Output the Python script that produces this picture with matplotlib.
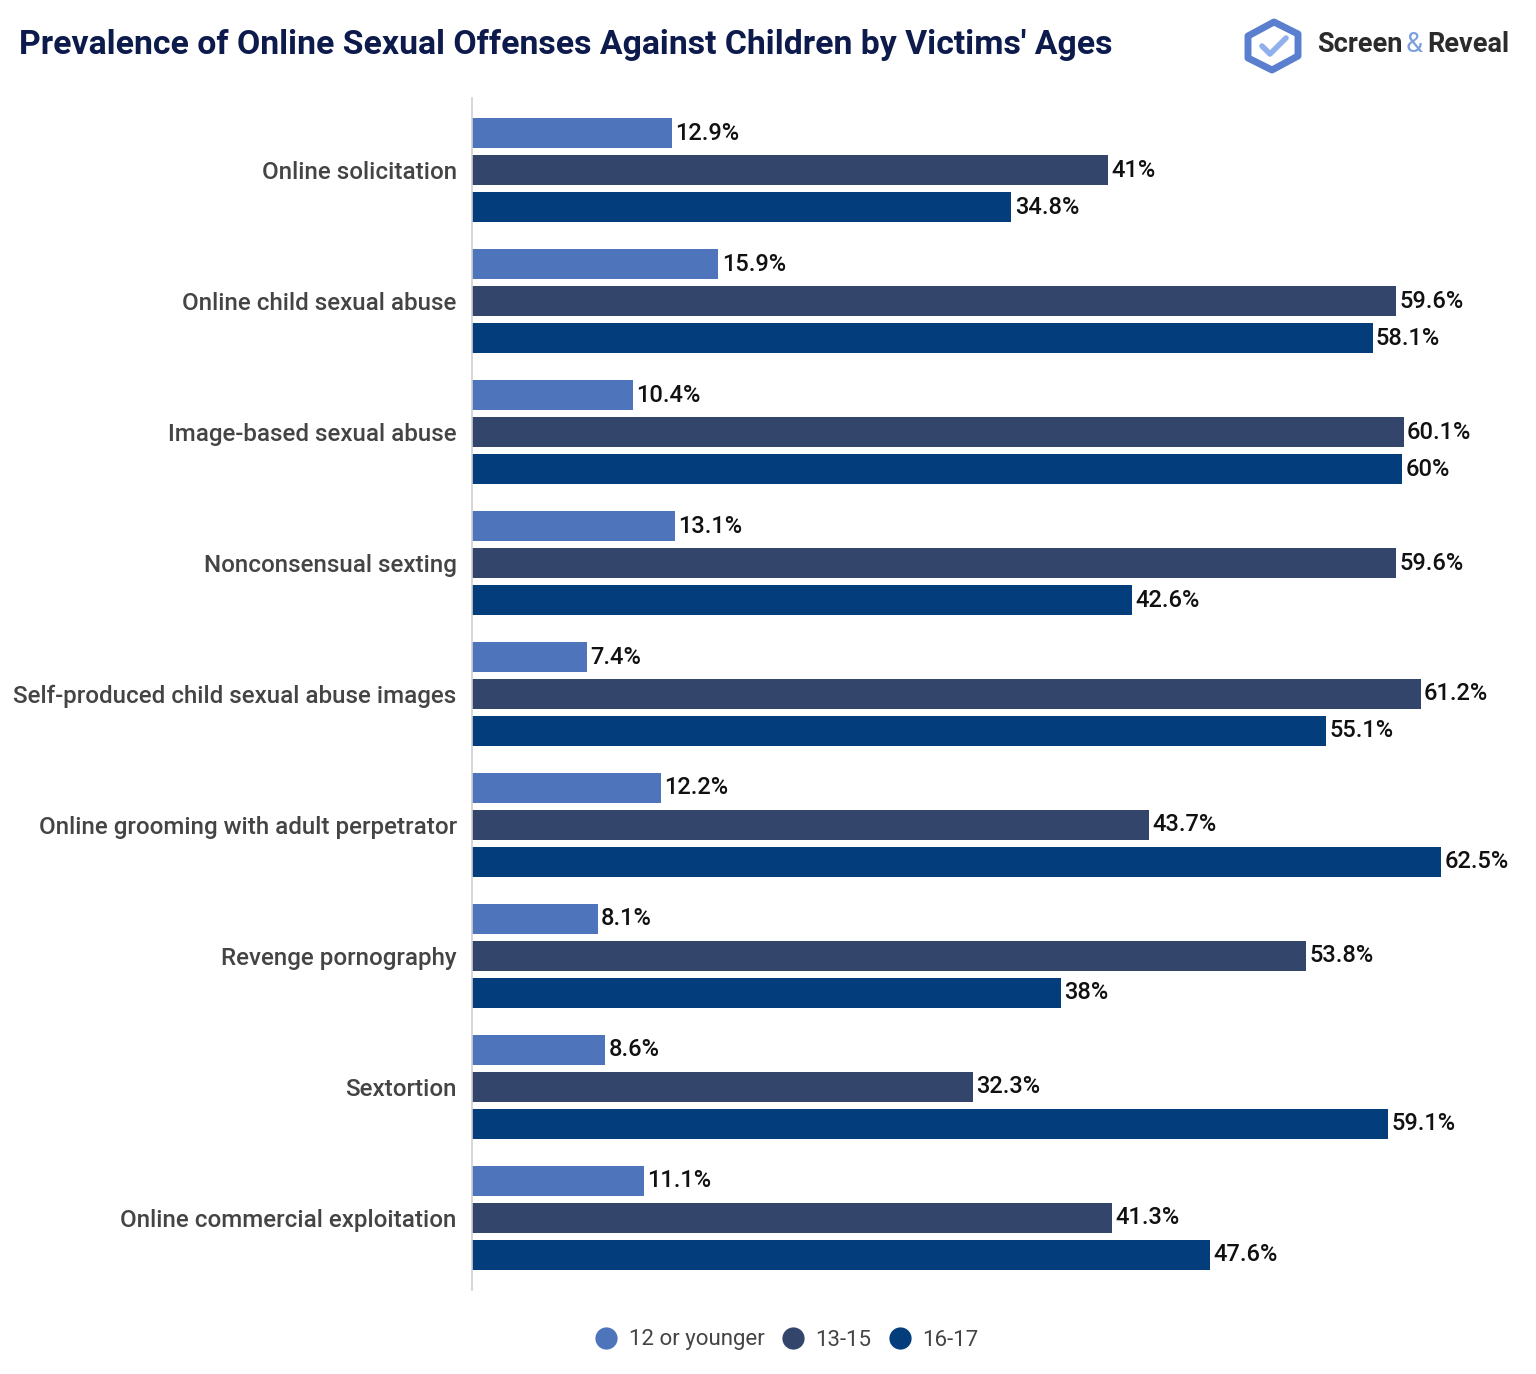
import matplotlib
matplotlib.use("Agg")
import matplotlib.pyplot as plt
import numpy as np
from matplotlib.patches import Polygon
from matplotlib.lines import Line2D

plt.rcParams['font.family'] = ['Roboto', 'DejaVu Sans']

categories = [
    "Online solicitation",
    "Online child sexual abuse",
    "Image-based sexual abuse",
    "Nonconsensual sexting",
    "Self-produced child sexual abuse images",
    "Online grooming with adult perpetrator",
    "Revenge pornography",
    "Sextortion",
    "Online commercial exploitation",
]
series_names = ["12 or younger", "13-15", "16-17"]
age_12_or_younger = [12.9, 15.9, 10.4, 13.1, 7.4, 12.2, 8.1, 8.6, 11.1]
age_13_15 = [41, 59.6, 60.1, 59.6, 61.2, 43.7, 53.8, 32.3, 41.3]
age_16_17 = [34.8, 58.1, 60, 42.6, 55.1, 62.5, 38, 59.1, 47.6]
colors = ["#4e75bb", "#34456b", "#033d7c"]

W, H = 1536, 1374
fig = plt.figure(figsize=(W / 100, H / 100), dpi=100)
ax = fig.add_axes([472 / W, 1 - 1290 / H, (1520 - 472) / W, (1290 - 98) / H])

n = len(categories)
y = np.arange(n)
pitch = 0.2824
bh = 0.229
all_series = [age_12_or_younger, age_13_15, age_16_17]
for i, vals in enumerate(all_series):
    pos = y + (i - 1) * pitch
    ax.barh(pos, vals, height=bh, color=colors[i], edgecolor='none')
    for p, v in zip(pos, vals):
        txt = f"{v:g}%"
        ax.text(v + 0.22, p, txt, va='center', ha='left', fontsize=17,
                fontweight='medium', color='#111111')

ax.set_xlim(0, (1520 - 472) / 15.5)
ax.set_ylim(n - 0.45, -0.55)
ax.set_yticks(y)
ax.set_yticklabels(categories, fontsize=17.4, color='#444444', fontweight='medium')
ax.tick_params(axis='y', length=0, pad=11)
ax.set_xticks([])
for s in ['top', 'right', 'bottom']:
    ax.spines[s].set_visible(False)
ax.spines['left'].set_color('#d0d0d0')
ax.spines['left'].set_linewidth(1.2)

# Title
fig.text(19 / W, 1 - 45 / H, "Prevalence of Online Sexual Offenses Against Children by Victims' Ages",
         fontsize=24.3, fontweight='bold', color='#0d1b4c', va='center', ha='left')

# Logo
def px(xp, yp):
    return (xp / W, 1 - yp / H)
icon_outer = [px(1274, 22), px(1298, 34), px(1298, 56), px(1272, 70), px(1248, 58), px(1248, 36)]
fig.patches.append(Polygon(icon_outer, closed=True, fill=False, edgecolor='#5a7fcf',
                           linewidth=5, transform=fig.transFigure, joinstyle='round'))
fig.add_artist(Line2D([1262 / W, 1270 / W, 1286 / W], [1 - 46 / H, 1 - 54 / H, 1 - 38 / H],
                      color='#8fb0ea', linewidth=4, transform=fig.transFigure,
                      solid_capstyle='round'))
fig.text(1317 / W, 1 - 45 / H, "Screen", fontsize=19.5, fontweight='bold', color='#2b2b2b',
         va='center', ha='left')
fig.text(1406 / W, 1 - 45 / H, "&", fontsize=19.5, color='#7d9fe0', va='center', ha='left')
fig.text(1427 / W, 1 - 45 / H, "Reveal", fontsize=19.5, fontweight='bold', color='#2b2b2b',
         va='center', ha='left')

# Legend
handles = [Line2D([], [], marker='o', linestyle='none', markersize=16,
                  markerfacecolor=c, markeredgecolor='none') for c in colors]
fig.legend(handles, series_names, loc='center', bbox_to_anchor=(787 / W, 1 - 1340 / H),
           ncol=3, frameon=False, fontsize=16, labelcolor='#444444',
           handletextpad=0.5, columnspacing=0.8, handlelength=1.0)

fig.savefig("out.png", dpi=100, facecolor='white')
